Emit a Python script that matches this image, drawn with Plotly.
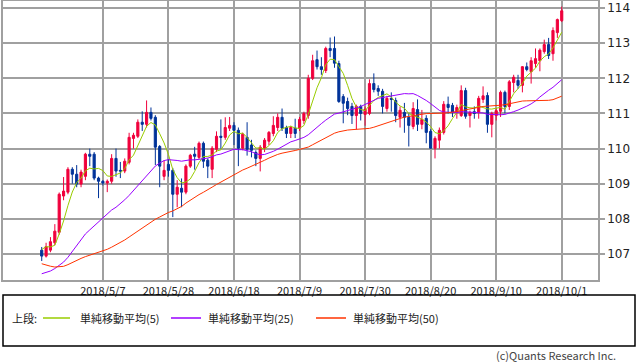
import pandas as pd
import plotly.graph_objects as go

# ---- data (USD/JPY daily) ----
dates = [d.strftime('%Y-%m-%d') for d in pd.bdate_range('2018-04-17', '2018-10-01')]

open_ = [107.11, 106.94, 107.11, 107.32, 107.62, 108.65, 108.76, 109.41, 109.27, 108.99,
         109.21, 109.84, 109.84, 109.16, 109.07, 109.02, 109.07, 109.72, 109.38, 109.36,
         109.61, 110.29, 110.35, 110.75, 110.69, 111.03, 110.89, 110.06, 109.21, 109.55,
         109.38, 108.70, 108.87, 108.76, 109.50, 109.84, 109.75, 110.15, 109.67, 109.41,
         109.98, 110.35, 110.32, 110.58, 110.66, 110.52, 110.01, 110.32, 110.10, 109.89,
         109.72, 110.01, 110.21, 110.43, 110.60, 110.89, 110.60, 110.43, 110.58, 110.58,
         110.80, 110.94, 112.00, 112.53, 112.33, 112.22, 112.85, 112.85, 112.42, 111.48,
         111.34, 111.20, 110.94, 111.20, 110.97, 111.00, 111.85, 111.71, 111.63, 111.14,
         111.43, 111.37, 110.89, 111.03, 110.89, 110.63, 111.11, 110.69, 110.86, 110.49,
         110.01, 110.24, 110.46, 111.26, 111.23, 111.03, 110.94, 111.65, 110.94, 111.05,
         111.03, 111.40, 111.51, 110.69, 110.94, 111.06, 111.60, 111.20, 111.88, 111.94,
         111.80, 112.33, 112.19, 112.42, 112.50, 112.76, 112.96, 112.70, 113.30, 113.64]
high = [107.20, 107.32, 107.48, 107.85, 108.75, 109.19, 109.47, 109.47, 109.53, 109.40,
        109.88, 110.00, 109.90, 109.20, 109.10, 109.12, 109.84, 110.00, 109.62, 109.72,
        110.45, 110.45, 110.83, 111.06, 111.37, 111.17, 110.95, 110.10, 109.67, 109.70,
        109.45, 109.10, 109.15, 109.55, 109.85, 110.05, 110.20, 110.20, 109.72, 110.07,
        110.49, 110.83, 110.89, 110.90, 110.75, 110.60, 110.45, 110.75, 110.25, 109.95,
        110.10, 110.30, 110.50, 110.92, 111.00, 111.14, 110.65, 110.65, 110.85, 110.90,
        111.05, 112.10, 112.67, 112.79, 112.60, 112.90, 113.16, 113.19, 112.50, 111.55,
        111.45, 111.30, 111.25, 111.25, 111.20, 111.97, 112.14, 111.80, 111.70, 111.50,
        111.60, 111.45, 111.20, 111.30, 111.00, 111.32, 111.40, 111.10, 110.95, 110.55,
        110.35, 110.60, 111.35, 111.48, 111.30, 111.25, 111.80, 111.73, 111.08, 111.20,
        111.50, 111.77, 111.60, 111.05, 111.15, 111.65, 111.65, 111.95, 112.10, 112.10,
        112.35, 112.45, 112.60, 112.85, 112.85, 113.10, 113.15, 113.45, 113.70, 114.04]
low = [106.80, 106.90, 107.05, 107.25, 107.55, 108.53, 108.70, 109.00, 108.90, 108.90,
       109.10, 109.50, 109.10, 108.59, 108.95, 108.76, 109.00, 109.20, 109.16, 109.30,
       109.55, 110.00, 110.30, 110.50, 110.60, 110.80, 109.53, 108.90, 109.10, 109.20,
       108.05, 108.33, 108.33, 108.70, 109.45, 109.40, 109.70, 109.45, 109.16, 109.16,
       109.90, 110.00, 110.25, 110.50, 110.10, 109.50, 109.95, 109.80, 109.75, 109.50,
       109.35, 109.90, 110.10, 110.35, 110.50, 110.50, 110.30, 110.30, 110.30, 110.50,
       110.70, 110.85, 111.95, 112.25, 112.10, 112.15, 112.60, 112.30, 111.30, 110.72,
       110.95, 110.70, 110.55, 110.80, 110.65, 110.95, 111.60, 111.50, 111.00, 111.05,
       111.05, 110.75, 110.60, 110.45, 110.06, 110.55, 110.50, 110.55, 110.15, 110.00,
       109.72, 110.00, 110.40, 111.00, 110.90, 110.85, 110.90, 110.85, 110.60, 110.85,
       110.85, 111.30, 110.45, 110.32, 110.80, 110.90, 111.00, 111.10, 111.60, 111.70,
       111.60, 112.20, 111.85, 112.30, 112.20, 112.70, 112.55, 112.50, 113.15, 113.60]
close = [106.94, 107.21, 107.35, 107.65, 108.70, 108.79, 109.41, 109.27, 108.99, 109.33,
         109.84, 109.78, 109.16, 109.07, 109.02, 109.07, 109.72, 109.36, 109.36, 109.64,
         110.32, 110.38, 110.75, 110.69, 111.03, 110.86, 110.04, 109.50, 109.38, 109.38,
         108.70, 108.90, 108.76, 109.50, 109.81, 109.78, 110.15, 109.64, 109.50, 110.01,
         110.35, 110.32, 110.60, 110.66, 110.52, 110.01, 110.41, 109.98, 109.95, 109.72,
         110.04, 110.24, 110.46, 110.66, 110.89, 110.58, 110.43, 110.60, 110.43, 110.83,
         111.00, 112.00, 112.50, 112.33, 112.25, 112.85, 112.79, 112.43, 111.34, 111.29,
         111.14, 110.94, 111.20, 111.00, 111.12, 111.85, 111.68, 111.63, 111.20, 111.43,
         111.40, 110.94, 111.09, 110.89, 110.66, 111.14, 110.69, 110.83, 110.46, 110.01,
         110.29, 110.52, 111.26, 111.17, 111.03, 111.17, 111.65, 110.92, 111.03, 111.00,
         111.43, 111.50, 110.69, 111.00, 111.08, 111.60, 111.20, 111.90, 112.03, 111.80,
         112.33, 112.25, 112.50, 112.56, 112.80, 112.96, 112.65, 113.36, 113.67, 113.92]

# closes before the visible window (2018/2/7 - 2018/4/16), needed for the moving averages
prior_close = [109.3, 108.8, 108.8, 108.7, 107.8, 107.0, 106.1, 106.3, 106.3, 107.3,
               107.8, 106.7, 106.9, 106.9, 107.4, 106.7,
               106.2, 105.7, 106.2, 106.1, 106.1, 106.3, 106.8, 106.4, 106.6, 106.3,
               106.3, 105.9, 106.4, 106.5, 106.0, 105.3, 104.7, 105.4, 105.4, 106.9,
               106.3, 106.3,
               105.9, 106.6, 106.8, 107.4, 106.9, 106.8, 107.2, 106.8, 107.4, 107.4, 107.1]

tick_dates = ['2018-05-07', '2018-05-28', '2018-06-18', '2018-07-09',
              '2018-07-30', '2018-08-20', '2018-09-10', '2018-10-01']
tick_text = ['2018/5/7', '2018/5/28', '2018/6/18', '2018/7/9',
             '2018/7/30', '2018/8/20', '2018/9/10', '2018/10/1']
y_ticks = [107, 108, 109, 110, 111, 112, 113, 114]

ma_periods = [5, 25, 50]
ma_names = ['単純移動平均(5)', '単純移動平均(25)', '単純移動平均(50)']
ma_colors = ['#99cc00', '#9900ff', '#ff3300']

# ---- figure ----
all_close = pd.Series(prior_close + close)
n = len(close)

fig = go.Figure()
fig.add_trace(go.Candlestick(
    x=dates, open=open_, high=high, low=low, close=close,
    increasing=dict(line=dict(color='#f0003c', width=1), fillcolor='#f0003c'),
    decreasing=dict(line=dict(color='#003399', width=1), fillcolor='#003399'),
    whiskerwidth=0, showlegend=False, hoverinfo='skip'))

for p, name, col in zip(ma_periods, ma_names, ma_colors):
    ma = all_close.rolling(p).mean().iloc[-n:].tolist()
    fig.add_trace(go.Scatter(x=dates, y=ma, mode='lines', name=name,
                             line=dict(color=col, width=1), showlegend=False,
                             hoverinfo='skip'))

W0, W1, H0, H1 = 3, 598, 1, 280   # plot area in px


def px(xp):
    return (xp - W0) / (W1 - W0)


def py(yp):
    return (H1 - yp) / (H1 - H0)


font_jp = 'Noto Sans CJK JP'
shapes = [dict(type='rect', xref='paper', yref='paper',
               x0=px(3), x1=px(635), y0=py(346), y1=py(295),
               line=dict(color='#000000', width=1.5), fillcolor='rgba(0,0,0,0)')]
annotations = [dict(text='上段:', x=px(10), y=py(318), xref='paper', yref='paper',
                    xanchor='left', yanchor='middle', showarrow=False,
                    font=dict(family=font_jp, size=11, color='#222'))]
leg_line_x = [(43, 70), (171, 201), (316, 346)]
leg_text_x = [78, 206, 351]
for (a, b), tx, name, col in zip(leg_line_x, leg_text_x, ma_names, ma_colors):
    shapes.append(dict(type='line', xref='paper', yref='paper',
                       x0=px(a), x1=px(b), y0=py(318), y1=py(318),
                       line=dict(color=col, width=1.5)))
    annotations.append(dict(text=name, x=px(tx), y=py(318), xref='paper', yref='paper',
                            xanchor='left', yanchor='middle', showarrow=False,
                            font=dict(family=font_jp, size=11, color='#222')))
annotations.append(dict(text='(c)Quants Research Inc.', x=px(618), y=py(355),
                        xref='paper', yref='paper', xanchor='right', yanchor='middle',
                        showarrow=False, font=dict(family=font_jp, size=11, color='#444')))

fig.update_layout(
    width=638, height=362,
    margin=dict(l=W0, r=638 - W1, t=H0, b=362 - H1, autoexpand=False),
    paper_bgcolor='white', plot_bgcolor='white',
    showlegend=False,
    shapes=shapes, annotations=annotations,
    xaxis=dict(type='category', range=[-8.86, 127.3], rangeslider=dict(visible=False),
               tickmode='array', tickvals=tick_dates, ticktext=tick_text,
               showgrid=True, gridcolor='#a0a0a0', gridwidth=1.5,
               showline=True, linecolor='#a0a0a0', linewidth=1.5, mirror=True,
               ticks='', tickfont=dict(family=font_jp, size=11, color='#222'),
               zeroline=False, fixedrange=True),
    yaxis=dict(side='right', range=[106.26, 114.2], tickmode='array', tickvals=y_ticks,
               showgrid=True, gridcolor='#a0a0a0', gridwidth=1.5,
               showline=True, linecolor='#a0a0a0', linewidth=1.5, mirror=True,
               ticks='outside', ticklen=5, tickwidth=1.5, tickcolor='#a0a0a0',
               tickfont=dict(family='DejaVu Sans', size=12, color='#222'),
               zeroline=False, fixedrange=True),
)

fig.write_html('out.html', config={'displayModeBar': False},
               post_script="document.body.style.margin='0px';"
                           "document.body.style.padding='0px';"
                           "document.body.style.overflow='hidden';")
